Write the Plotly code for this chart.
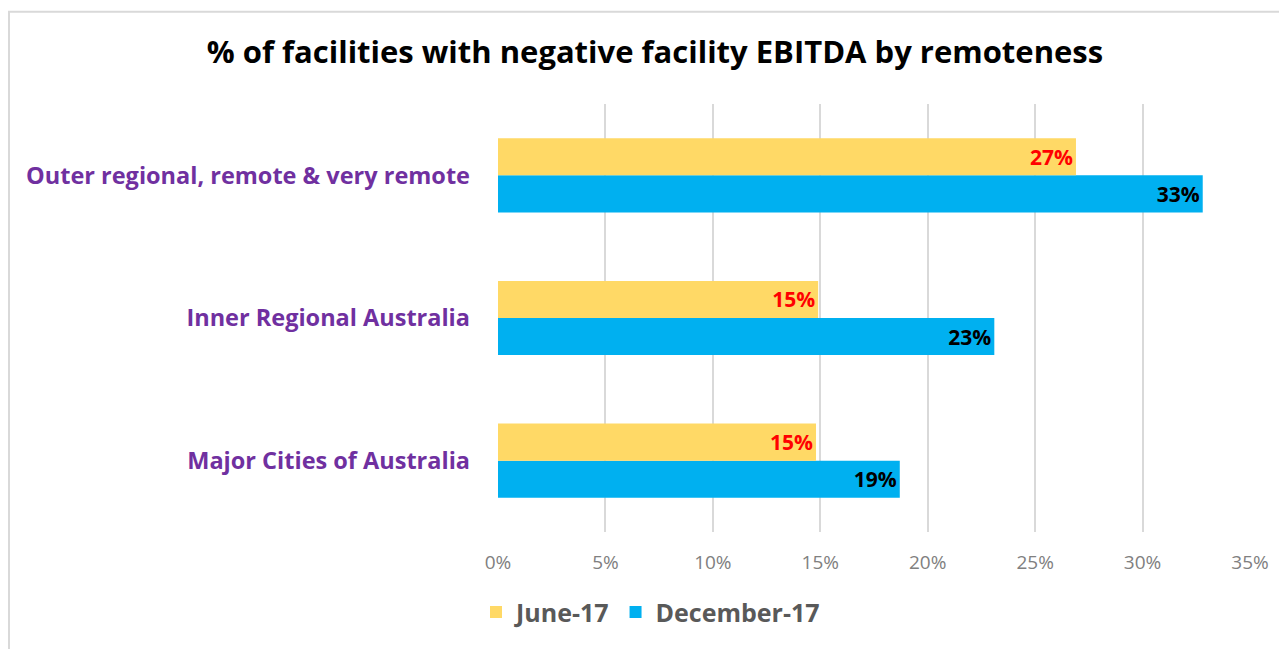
import plotly.graph_objects as go

categories = ["Major Cities of Australia", "Inner Regional Australia", "Outer regional, remote & very remote"]
june17 = [0.148, 0.149, 0.269]
dec17 = [0.187, 0.231, 0.328]
tick_vals = [0, 0.05, 0.10, 0.15, 0.20, 0.25, 0.30, 0.35]
tick_text = ["0%", "5%", "10%", "15%", "20%", "25%", "30%", "35%"]

OFF = 8  # browser body margin
PW, PH = 1287, 649
W, H = PW - OFF, PH - OFF
# page-pixel geometry of the plot area
L, R, T, B = 498, 1250, 103.5, 532.5
ml, mr, mt, mb = L - OFF, PW - R, T - OFF, PH - B

def px_x(x):
    return (x - L) / (R - L)

def px_y(y):
    return (B - y) / (B - T)

fig = go.Figure()
fig.add_trace(go.Bar(
    y=categories, x=dec17, orientation="h", name="December-17",
    marker=dict(color="#00B0F0", line=dict(width=0)),
    texttemplate="%{x:.0%}", textposition="inside", insidetextanchor="end",
    textfont=dict(color="#000000", size=21, family="Open Sans", weight="bold"),
    legendrank=2,
))
fig.add_trace(go.Bar(
    y=categories, x=june17, orientation="h", name="June-17",
    marker=dict(color="#FFD966", line=dict(width=0)),
    texttemplate="%{x:.0%}", textposition="inside", insidetextanchor="end",
    textfont=dict(color="#FF0000", size=21, family="Open Sans", weight="bold"),
    legendrank=1,
))

fig.update_layout(
    width=W, height=H,
    margin=dict(l=ml, r=mr, t=mt, b=mb),
    paper_bgcolor="white", plot_bgcolor="white",
    barmode="group", bargap=0.48, bargroupgap=0,
    uniformtext=dict(minsize=21, mode="show"),
    title=dict(text="<b>% of facilities with negative facility EBITDA by remoteness</b>",
               x=px_x(655), xref="paper", xanchor="center",
               y=1 - (52 - OFF) / H, yref="container", yanchor="middle",
               font=dict(family="Open Sans", size=31, color="#000000")),
    xaxis=dict(range=[0, 0.35], tickvals=tick_vals, ticktext=tick_text,
               showgrid=True, gridcolor="#D9D9D9", gridwidth=1.5,
               zeroline=False, showline=False, ticks="",
               tickfont=dict(family="Open Sans", size=19, color="#808080"),
               ticklabelstandoff=17),
    yaxis=dict(categoryorder="array", categoryarray=categories,
               showgrid=False, zeroline=False, showline=False, ticks="",
               tickfont=dict(family="Open Sans", size=23.5, color="#7030A0", weight="bold"),
               ticklabelstandoff=27),
    legend=dict(orientation="h", x=px_x(476), xanchor="left",
                y=px_y(613), yanchor="middle",
                font=dict(family="Open Sans", size=25, color="#595959", weight="bold"),
                itemwidth=30, tracegroupgap=0),
    shapes=[dict(type="rect", xref="paper", yref="paper",
                 x0=px_x(9), x1=px_x(1300), y0=px_y(700), y1=px_y(11),
                 line=dict(color="#D9D9D9", width=2), fillcolor="rgba(0,0,0,0)",
                 layer="below")],
    showlegend=True,
)

fig.write_html("out.html")
